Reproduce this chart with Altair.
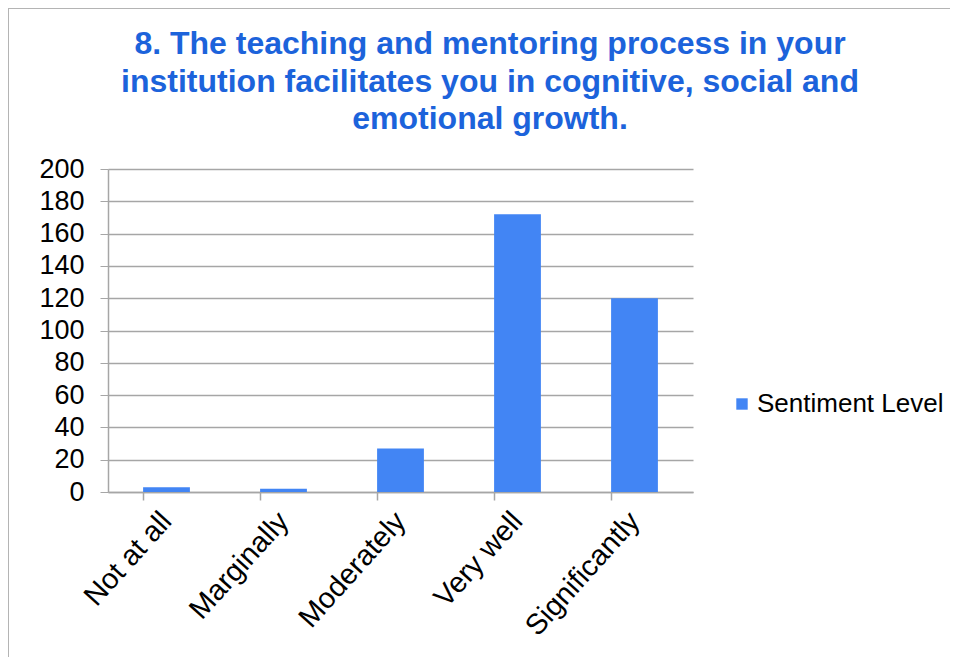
import altair as alt
import pandas as pd

categories = ["Not at all", "Marginally", "Moderately", "Very well", "Significantly"]
values = [3, 2, 27, 172, 120]
series_name = "Sentiment Level"
title_lines = [
    "8. The teaching and mentoring process in your",
    "institution facilitates you in cognitive, social and",
    "emotional growth.",
]

df = pd.DataFrame({"category": categories, "value": values, "series": [series_name] * len(categories)})
title_df = pd.DataFrame({"t": ["\n".join(title_lines)]})

FONT = "Liberation Sans"
GRID = "#A6A6A6"

bars = alt.Chart(df).mark_bar(color="#4285F4").encode(
    x=alt.X("category:N", sort=categories, title=None,
            scale=alt.Scale(paddingInner=0.6, paddingOuter=0.3),
            axis=alt.Axis(orient="bottom", labelAngle=-48, labelAlign="right", labelBaseline="middle",
                          labelFontSize=29, labelColor="black", labelFont=FONT, labelLimit=0,
                          ticks=False, domainColor=GRID, domainWidth=1.5, labelPadding=24)),
    y=alt.Y("value:Q", title=None,
            scale=alt.Scale(domain=[0, 200], nice=False),
            axis=alt.Axis(values=list(range(0, 201, 20)), labelFontSize=27, labelColor="black",
                          labelFont=FONT, tickSize=8, tickColor=GRID, domainColor=GRID,
                          domainWidth=1.5, gridColor=GRID, gridWidth=1.5, labelPadding=16)),
    color=alt.Color("series:N", scale=alt.Scale(range=["#4285F4"]), title=None,
                    legend=alt.Legend(orient="none", legendX=621, legendY=222, symbolType="square",
                                      symbolSize=130, labelFontSize=26, labelFont=FONT, labelLimit=0,
                                      labelColor="black", symbolStrokeWidth=0, labelOffset=2)),
)

ticks = alt.Chart(df).mark_tick(opacity=0).encode(
    x=alt.X("category:N", sort=categories, title=None,
            axis=alt.Axis(orient="bottom", bandPosition=0, labels=False, domain=False, ticks=True,
                          tickSize=8, tickColor=GRID, tickWidth=1.5, grid=False)),
)

frame = alt.Chart(df).mark_rect(fill=None, stroke="#B4B4B4", strokeWidth=2).encode(
    x=alt.value(-100), x2=alt.value(900), y=alt.value(-161), y2=alt.value(600)
)

title = alt.Chart(title_df).mark_text(
    font=FONT, fontSize=32, fontWeight="bold", color="#1C63DB",
    align="center", baseline="alphabetic", lineBreak="\n", lineHeight=37.5,
).encode(text="t:N", x=alt.value(382), y=alt.value(-115))

chart = alt.layer(frame, bars, ticks, title).resolve_axis(x="independent").properties(
    width=585,
    height=323,
    autosize=alt.AutoSizeParams(type="none"),
    padding={"left": 100, "top": 161, "right": 257, "bottom": 165},
).configure_view(stroke=None)

chart.save("out.html", embed_options={"renderer": "svg", "actions": False})
